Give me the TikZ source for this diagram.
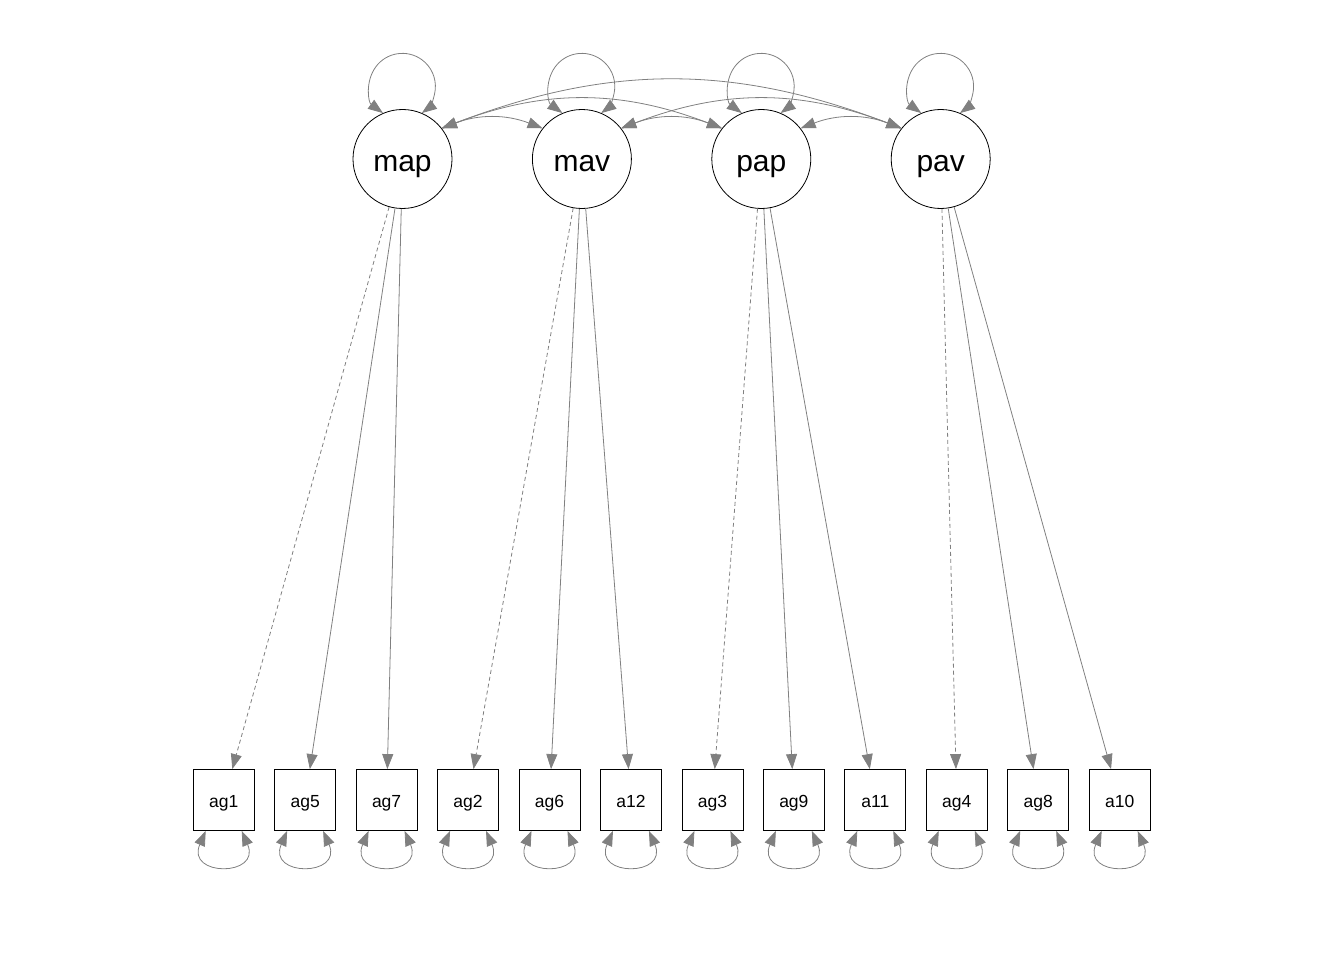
\documentclass[tikz,border=0pt]{standalone}
\usepackage{fontspec}
\setmainfont{Liberation Sans}
\usetikzlibrary{arrows.meta}
\begin{document}
\begin{tikzpicture}[x=1pt,y=1pt,
  latent/.style={circle, draw=black, line width=0.8pt, fill=white,
    minimum size=99pt, inner sep=0pt, text height=26pt, text depth=0pt,
    font=\fontsize{30}{36}\selectfont},
  manifest/.style={rectangle, draw=black, line width=0.8pt, fill=white,
    minimum size=61pt, inner sep=0pt, text height=14pt, text depth=0pt,
    font=\fontsize{17.5}{21}\selectfont},
  edge/.style={draw=gray, line width=0.8pt},
  load/.style={edge, -{Triangle[length=15pt,width=11pt]}},
  fixedload/.style={load, dash pattern=on 4pt off 3pt},
  twoway/.style={edge, {Triangle[length=15pt,width=11pt]}-{Triangle[length=15pt,width=11pt]}},
]
\useasboundingbox (0,0) rectangle (1344,-960);

% latent factors
\node[latent] (map) at (402.5,-159) {map};
\node[latent] (mav) at (581.9,-159) {mav};
\node[latent] (pap) at (761.3,-159) {pap};
\node[latent] (pav) at (940.7,-159) {pav};

% indicators
\foreach \name [count=\i from 0] in {ag1,ag5,ag7,ag2,ag6,a12,ag3,ag9,a11,ag4,ag8,a10}
  \node[manifest] (\name) at ({223.7+81.45*\i},-800) {\name};

% factor loadings
\draw[fixedload] (map) -- (ag1);
\draw[load] (map) -- (ag5);
\draw[load] (map) -- (ag7);
\draw[fixedload] (mav) -- (ag2);
\draw[load] (mav) -- (ag6);
\draw[load] (mav) -- (a12);
\draw[fixedload] (pap) -- (ag3);
\draw[load] (pap) -- (ag9);
\draw[load] (pap) -- (a11);
\draw[fixedload] (pav) -- (ag4);
\draw[load] (pav) -- (ag8);
\draw[load] (pav) -- (a10);

% factor variances
\foreach \f in {map,mav,pap,pav}
  \draw[twoway] (\f.113) arc[start angle=234, end angle=-54, radius=33];

% factor covariances
\draw[twoway] (map.38) to[bend left=21] (mav.142);
\draw[twoway] (mav.38) to[bend left=21] (pap.142);
\draw[twoway] (pap.38) to[bend left=21] (pav.142);
\draw[twoway] (map.38) to[bend left=21] (pap.142);
\draw[twoway] (mav.38) to[bend left=21] (pav.142);
\draw[twoway] (map.38) to[bend left=21] (pav.142);

% residual variances
\foreach \name in {ag1,ag5,ag7,ag2,ag6,a12,ag3,ag9,a11,ag4,ag8,a10}
  \draw[twoway] ([xshift=-18pt]\name.south) .. controls +(-20,-46) and +(20,-46) .. ([xshift=18pt]\name.south);
\end{tikzpicture}
\end{document}
